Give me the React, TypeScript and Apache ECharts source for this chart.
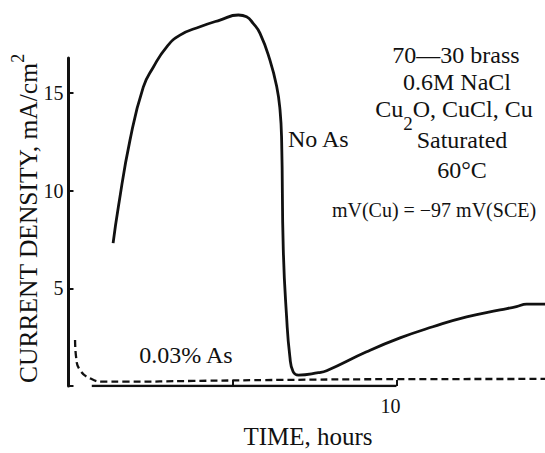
import React, { useEffect, useRef } from "react";
import * as echarts from "echarts";

// ---- data ----
const noAsHours = [1.36, 1.52, 1.875, 2.28, 2.59, 2.99, 3.4, 4.01, 4.62, 5.18, 5.43, 5.63, 5.84, 6.14, 6.35, 6.45, 6.5, 6.55, 6.65, 6.75, 6.85, 7.01, 7.62, 7.87, 9.09, 10.11, 11.11, 12.14, 13.16, 13.66, 13.97, 14.53];
const noAsCurrent = [7.31, 9.16, 12.58, 15.29, 16.32, 17.34, 17.95, 18.38, 18.72, 18.98, 18.89, 18.55, 18.04, 16.68, 15.31, 14.12, 12.5, 6.96, 3.55, 1.5, 0.73, 0.56, 0.68, 0.78, 1.75, 2.46, 3.03, 3.54, 3.89, 4.06, 4.19, 4.19];
const asHours = [0.2, 0.23, 0.35, 0.66, 1.06, 1.77, 3.8, 6.45, 10, 14.53];
const asCurrent = [2.35, 1.5, 0.82, 0.39, 0.22, 0.22, 0.26, 0.31, 0.35, 0.36];
const timeAxisSpan = [0.71, 10];
const xTickValues = [5, 10];
const xLabelValues = [10];
const yTickValues = [0, 5, 10, 15];
const yLabelValues = [5, 10, 15];
const X_MAX = 14.53;
const Y_MAX = 16.78;

const SERIF = '"Liberation Serif", "Times New Roman", serif';
const INK = "#111";
const font = (size: number) => `${size}px "Liberation Serif", "Times New Roman", serif`;

function txt(x: number, y: number, text: string, size: number, align: string = "center") {
  return {
    type: "text",
    x,
    y,
    silent: true,
    style: {
      text,
      fill: INK,
      font: font(size),
      fontSize: size,
      fontFamily: SERIF,
      align,
      textAlign: align,
      verticalAlign: "middle",
      textVerticalAlign: "middle",
    },
  };
}

export default function App() {
  const ref = useRef<HTMLDivElement>(null);

  useEffect(() => {
    if (!ref.current) return;
    const chart = echarts.init(ref.current, undefined, { renderer: "svg" });
    const pair = (xs: number[], ys: number[]) => xs.map((x, i) => [x, ys[i]]);

    chart.setOption({
      animation: false,
      backgroundColor: "#fff",
      textStyle: { fontFamily: SERIF },
      grid: { left: 68.5, right: 0, top: 58, bottom: 67, outerBoundsMode: "none", containLabel: false },
      xAxis: {
        type: "value",
        min: 0,
        max: X_MAX,
        interval: 5,
        splitLine: { show: false },
        axisLine: { show: false },
        axisTick: { show: true, inside: true, length: 6, customValues: xTickValues, lineStyle: { color: INK, width: 2 } },
        axisLabel: {
          show: true,
          customValues: xLabelValues,
          color: INK,
          fontSize: 20,
          fontFamily: SERIF,
          margin: 10,
          padding: [0, 12, 0, 0],
        },
      },
      yAxis: {
        type: "value",
        min: 0,
        max: Y_MAX,
        interval: 5,
        splitLine: { show: false },
        axisLine: { show: true, lineStyle: { color: INK, width: 3 } },
        axisTick: { show: true, inside: true, length: 5, customValues: yTickValues, lineStyle: { color: INK, width: 2 } },
        axisLabel: {
          show: true,
          customValues: yLabelValues,
          color: INK,
          fontSize: 20,
          fontFamily: SERIF,
          margin: 5,
        },
      },
      series: [
        {
          name: "time axis",
          type: "line",
          data: timeAxisSpan.map((t) => [t, 0]),
          symbol: "none",
          silent: true,
          lineStyle: { color: INK, width: 2.5 },
          z: 1,
        },
        {
          name: "No As",
          type: "line",
          data: pair(noAsHours, noAsCurrent),
          symbol: "none",
          smooth: 0.5,
          clip: false,
          lineStyle: { color: INK, width: 2.8 },
          z: 3,
        },
        {
          name: "0.03% As",
          type: "line",
          data: pair(asHours, asCurrent),
          symbol: "none",
          smooth: 0.5,
          clip: false,
          lineStyle: { color: INK, width: 2.3, type: [7, 4] },
          z: 2,
        },
      ],
      graphic: [
        {
          type: "text",
          x: 28.5,
          y: 218.5,
          rotation: Math.PI / 2,
          silent: true,
          style: {
            text: "{t|CURRENT DENSITY, mA/cm}{s|2}",
            fill: INK,
            align: "center",
            textAlign: "center",
            verticalAlign: "middle",
            textVerticalAlign: "middle",
            rich: {
              t: { font: font(25.5), fontSize: 25.5, fontFamily: SERIF, lineHeight: 40, fill: INK },
              s: { font: font(18), fontSize: 18, fontFamily: SERIF, lineHeight: 17, verticalAlign: "top", fill: INK },
            },
          },
        },
        txt(308, 436.5, "TIME, hours", 25),
        txt(288, 139, "No As", 24, "left"),
        txt(186, 355, "0.03% As", 24),
        txt(456, 55, "70—30 brass", 24),
        txt(457, 82, "0.6M NaCl", 24),
        {
          type: "text",
          x: 454,
          y: 109,
          silent: true,
          style: {
            text: "{m|Cu}{b|2}{m|O, CuCl, Cu}",
            fill: INK,
            align: "center",
            textAlign: "center",
            verticalAlign: "middle",
            textVerticalAlign: "middle",
            rich: {
              m: { font: font(24), fontSize: 24, fontFamily: SERIF, lineHeight: 48, fill: INK },
              b: { font: font(19), fontSize: 19, fontFamily: SERIF, lineHeight: 19, verticalAlign: "bottom", fill: INK },
            },
          },
        },
        txt(462, 140, "Saturated", 24),
        txt(462, 170, "60°C", 24),
        txt(434, 210, "mV(Cu) = −97 mV(SCE)", 20),
      ],
    });

    return () => chart.dispose();
  }, []);

  return (
    <div
      ref={ref}
      style={{ position: "fixed", left: 0, top: 0, width: 545, height: 453, background: "#fff" }}
    />
  );
}
